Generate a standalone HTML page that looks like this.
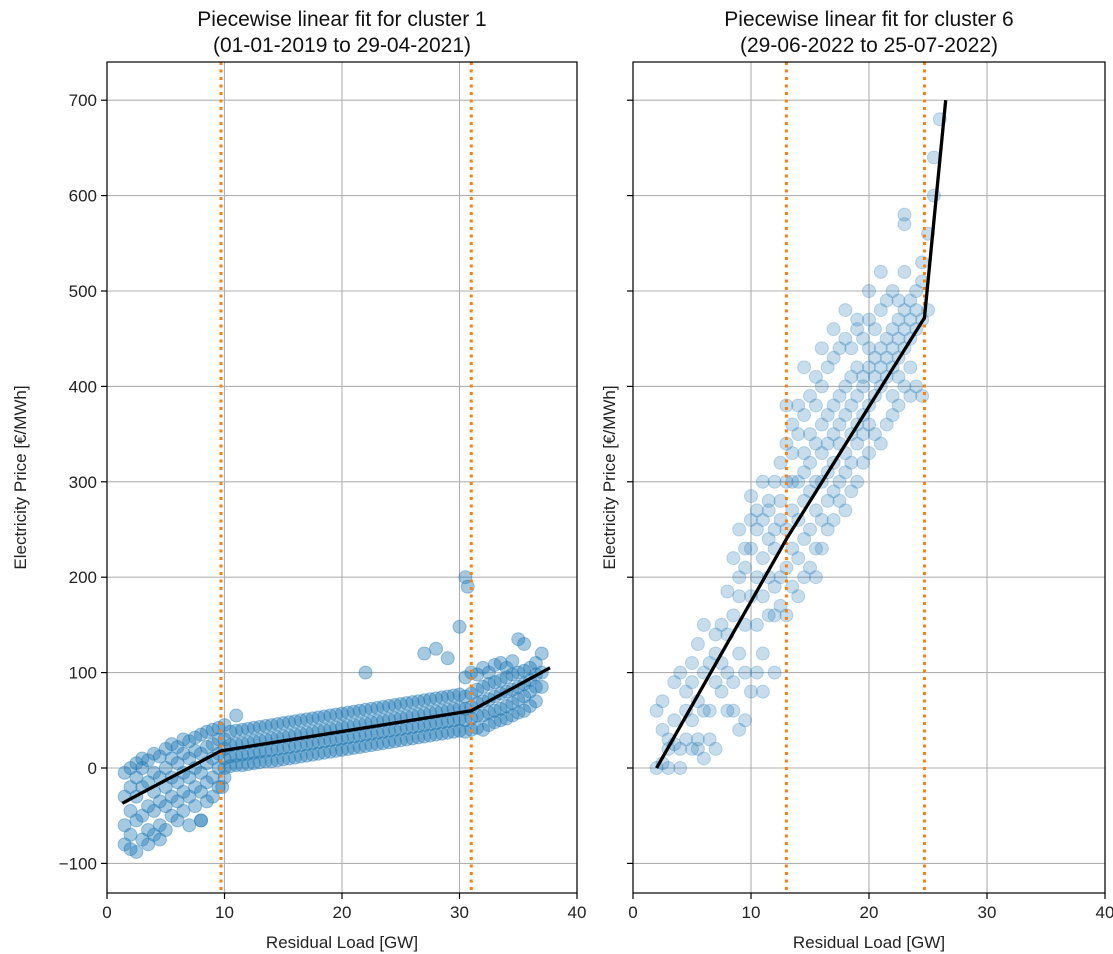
<!DOCTYPE html>
<html><head><meta charset="utf-8"><style>
html,body{margin:0;padding:0;background:#fff;}
svg{display:block;font-family:"Liberation Sans","DejaVu Sans",sans-serif;}
</style></head><body>
<svg id="chart" width="1113" height="954"></svg>
<script>
// ---- data ----
const xTicks=[0,10,20,30,40];
const yTicks=[-100,0,100,200,300,400,500,600,700];
const leftBreaks=[9.7,31];
const rightBreaks=[13,24.7];
const leftFitX=[1.3,9.7,31,37.7];
const leftFitY=[-37,18,60,105];
const rightFitX=[2,13,24.7,26.5];
const rightFitY=[0,240,472,700];
const leftX=[1.5,1.5,1.5,1.5,2,2,2,2,2,2.5,2.5,2.5,2.5,2.5,3,3,3,3,3,3.5,3.5,3.5,3.5,3.5,4,4,4,4,4,4.5,4.5,4.5,4.5,4.5,5,5,5,5,5,5.5,5.5,5.5,5.5,5.5,6,6,6,6,6,6.5,6.5,6.5,6.5,6.5,7,7,7,7,7,7.5,7.5,7.5,7.5,7.5,8,8,8,8,8,8.5,8.5,8.5,8.5,8.5,9,9,9,9,9,9.5,9.5,9.5,9.5,9.5,10,10,10,10,10,
10.5,10.5,10.5,10.5,11,11,11,11,11.5,11.5,11.5,11.5,12,12,12,12,12.5,12.5,12.5,12.5,13,13,13,13,13.5,13.5,13.5,13.5,14,14,14,14,14.5,14.5,14.5,14.5,15,15,15,15,15.5,15.5,15.5,15.5,16,16,16,16,16.5,16.5,16.5,16.5,17,17,17,17,17.5,17.5,17.5,17.5,18,18,18,18,18.5,18.5,18.5,18.5,19,19,19,19,19.5,19.5,19.5,19.5,20,20,20,20,20.5,20.5,20.5,20.5,21,21,21,21,21.5,21.5,21.5,21.5,22,22,22,22,22.5,22.5,22.5,22.5,23,23,23,23,23.5,23.5,23.5,23.5,24,24,24,24,24.5,24.5,24.5,24.5,25,25,25,25,25.5,25.5,25.5,25.5,26,26,26,26,26.5,26.5,26.5,26.5,27,27,27,27,27.5,27.5,27.5,27.5,28,28,28,28,28.5,28.5,28.5,28.5,29,29,29,29,29.5,29.5,29.5,29.5,30,30,30,30,
30.5,30.5,30.5,30.5,30.5,31,31,31,31,31,31.5,31.5,31.5,31.5,31.5,32,32,32,32,32,32.5,32.5,32.5,32.5,32.5,33,33,33,33,33,33.5,33.5,33.5,33.5,33.5,34,34,34,34,34,34.5,34.5,34.5,34.5,34.5,35,35,35,35,35,35.5,35.5,35.5,35.5,35.5,36,36,36,36,36.5,36.5,36.5,36.5,37,37,37,
30.5,30.7,30,28,27,29,22,11,8,9.8,10];
const leftY=[-80,-60,-30,-5,-85,-70,-45,-20,0,-88,-55,-30,-10,5,-75,-50,-20,0,10,-80,-65,-40,-15,8,-70,-45,-25,-5,15,-75,-60,-35,-10,12,-65,-40,-20,0,20,-50,-30,-10,10,25,-55,-35,-15,5,22,-45,-25,-5,15,30,-60,-30,-10,10,28,-40,-20,0,18,32,-55,-25,-5,15,35,-35,-15,5,22,38,-30,-10,10,25,40,-20,0,15,30,42,0,10,20,30,45,
2,12,24,38,3,13,25,39,3,14,26,40,4,15,27,41,5,16,28,42,6,17,29,43,7,18,30,44,7,19,31,45,8,20,32,46,9,21,33,47,10,22,34,48,11,23,35,49,12,24,36,50,13,25,37,51,14,26,38,52,15,27,39,53,16,28,40,54,17,29,41,55,18,30,42,56,19,31,43,57,20,32,44,58,21,33,45,59,22,34,46,60,23,35,47,61,24,36,48,62,25,37,49,63,26,38,50,64,27,39,51,65,28,40,52,66,29,41,53,67,30,42,54,68,31,43,55,69,32,44,56,70,33,45,57,71,34,46,58,72,35,47,59,73,36,48,60,74,37,49,61,75,38,50,62,76,39,51,63,77,
38,50,62,75,95,40,52,64,78,100,42,55,68,82,98,40,55,70,85,105,45,58,72,88,100,48,60,75,90,108,50,62,78,92,110,52,65,80,95,105,55,68,82,98,112,58,72,85,100,135,60,75,88,102,130,65,80,92,105,70,85,98,110,85,100,120,
200,190,148,125,120,115,100,55,-55,-20,-10];
const rightX=[2,2,2.5,2.5,2.5,3,3,3,3.5,3.5,3.5,4,4,4,4.5,4.5,4.5,5,5,5,5,5.5,5.5,5.5,5.5,6,6,6,6,6.5,6.5,6.5,7,7,7,7,7.5,7.5,7.5,8,8,8,8,8.5,8.5,8.5,8.5,9,9,9,9,9,9.5,9.5,9.5,9.5,9.5,10,10,10,10,10,10.5,10.5,10.5,10.5,10.5,11,11,11,11,11,11,11.5,11.5,11.5,11.5,11.5,12,12,12,12,12,12,12.5,12.5,12.5,12.5,12.5,13,13,13,13,13,13,13.5,13.5,13.5,13.5,13.5,13.5,14,14,14,14,14,14,14.5,14.5,14.5,14.5,14.5,14.5,14.5,15,15,15,15,15,15,15.5,15.5,15.5,15.5,15.5,15.5,15.5,16,16,16,16,16,16,16,16.5,16.5,16.5,16.5,16.5,16.5,17,17,17,17,17,17,17,17.5,17.5,17.5,17.5,17.5,17.5,18,18,18,18,18,18,18,18.5,18.5,18.5,18.5,18.5,18.5,19,19,19,19,19,19,19,19.5,19.5,19.5,19.5,19.5,19.5,20,20,20,20,20,20,20,20.5,20.5,20.5,20.5,20.5,21,21,21,21,21,21,21.5,21.5,21.5,21.5,21.5,22,22,22,22,22,22,22.5,22.5,22.5,22.5,22.5,22.5,23,23,23,23,23,23,23,23.5,23.5,23.5,23.5,23.5,24,24,24,24,24.5,24.5,24.5,24.5,25,25,25.5,25.5,26];
const rightY=[0,60,5,40,70,0,20,30,25,50,90,0,20,100,60,30,80,50,20,110,90,30,130,70,20,150,60,10,100,110,30,60,120,90,20,140,80,150,110,100,185,60,140,90,220,160,60,40,180,120,250,200,50,210,150,230,100,80,230,180,285,260,100,250,200,150,270,120,220,260,300,180,80,160,240,280,270,200,190,250,300,230,160,100,200,260,320,280,170,210,250,340,300,160,380,190,270,330,360,230,300,180,260,350,300,220,380,200,280,330,370,240,310,420,210,290,350,390,250,320,200,270,340,380,410,300,230,230,300,360,400,330,260,440,250,310,370,420,340,280,260,320,380,430,350,290,460,280,340,390,440,360,300,270,330,400,450,370,310,480,290,350,410,440,380,320,300,360,420,460,390,340,470,320,370,410,450,400,350,330,380,420,470,440,360,500,350,390,430,460,410,340,400,440,480,420,520,360,410,450,490,430,370,420,460,500,440,390,380,430,470,490,450,410,400,440,480,520,460,580,570,390,450,490,420,470,400,460,480,500,390,470,530,510,480,560,600,640,680];

// ---- layout ----
const NS="http://www.w3.org/2000/svg";
const svg=document.getElementById('chart');
function el(tag,attrs,parent){const e=document.createElementNS(NS,tag);for(const k in attrs)e.setAttribute(k,attrs[k]);(parent||svg).appendChild(e);return e;}
const TOP=62,BOT=893,Y0=768,YS=0.954;
function yPix(v){return Y0-v*YS;}

function panel(id,left,right,title1,title2,px,py,fx,fy,breaks,showYLabels,alpha){
  const g=el('g',{});
  
  
  const xs=(right-left)/40;
  const xPix=v=>left+v*xs;
  const clipId=id+'-clip';
  const cp=el('clipPath',{id:clipId},g);el('rect',{x:left,y:TOP,width:right-left,height:BOT-TOP},cp);
  xTicks.forEach(t=>{const l=el('line',{x1:xPix(t),x2:xPix(t),y1:TOP,y2:BOT,stroke:'#b0b0b0','stroke-width':1.1},g);
    });
  yTicks.forEach(t=>{const l=el('line',{x1:left,x2:right,y1:yPix(t),y2:yPix(t),stroke:'#b0b0b0','stroke-width':1.1},g);
    });
  const sg=el('g',{'clip-path':'url(#'+clipId+')'},g);
  
  const n=Math.min(px.length,py.length);
  for(let i=0;i<n;i++){const c=el('circle',{cx:xPix(px[i]),cy:yPix(py[i]),r:6.5,fill:'#1f77b4','fill-opacity':alpha,stroke:'#1f77b4','stroke-opacity':alpha,'stroke-width':1},sg);
    }
  breaks.forEach(b=>{const l=el('line',{x1:xPix(b),x2:xPix(b),y1:TOP,y2:BOT,stroke:'#ff7f0e','stroke-width':3,'stroke-dasharray':'3,4.5'},g);
    });
  const fit=el('polyline',{points:fx.map((x,i)=>xPix(x)+','+yPix(fy[i])).join(' '),fill:'none',stroke:'#000','stroke-width':3.3,'stroke-linejoin':'round'},g);
  
  const fr=el('rect',{x:left,y:TOP,width:right-left,height:BOT-TOP,fill:'none',stroke:'#000','stroke-width':1.2},g);
  
  xTicks.forEach(t=>{el('line',{x1:xPix(t),x2:xPix(t),y1:BOT,y2:BOT+6,stroke:'#000','stroke-width':1.2},g);
    const tx=el('text',{x:xPix(t),y:BOT+25,'text-anchor':'middle','font-size':17,fill:'#222'},g);tx.textContent=t;
    });
  yTicks.forEach(t=>{el('line',{x1:left-6,x2:left,y1:yPix(t),y2:yPix(t),stroke:'#000','stroke-width':1.2},g);
    if(showYLabels){const tx=el('text',{x:left-10,y:yPix(t)+6,'text-anchor':'end','font-size':17,fill:'#222'},g);tx.textContent=(t<0?'\u2212'+(-t):t);
      }});
  const xl=el('text',{x:(left+right)/2,y:948,'text-anchor':'middle','font-size':17,fill:'#222'},g);xl.textContent='Residual Load [GW]';
  
  const ylx=showYLabels?26:left-18;
  const yl=el('text',{x:ylx,y:(TOP+BOT)/2,'text-anchor':'middle','font-size':17,fill:'#222',transform:'rotate(-90 '+ylx+' '+(TOP+BOT)/2+')'},g);yl.textContent='Electricity Price [€/MWh]';
  
  const t1=el('text',{x:(left+right)/2,y:26,'text-anchor':'middle','font-size':21,fill:'#111'},g);t1.textContent=title1;
  
  const t2=el('text',{x:(left+right)/2,y:52,'text-anchor':'middle','font-size':21,fill:'#111'},g);t2.textContent=title2;
  
}
panel('cluster-1-panel',107,577,'Piecewise linear fit for cluster 1','(01-01-2019 to 29-04-2021)',leftX,leftY,leftFitX,leftFitY,leftBreaks,true,0.4);
panel('cluster-6-panel',633,1105,'Piecewise linear fit for cluster 6','(29-06-2022 to 25-07-2022)',rightX,rightY,rightFitX,rightFitY,rightBreaks,false,0.25);
</script>
</body></html>
